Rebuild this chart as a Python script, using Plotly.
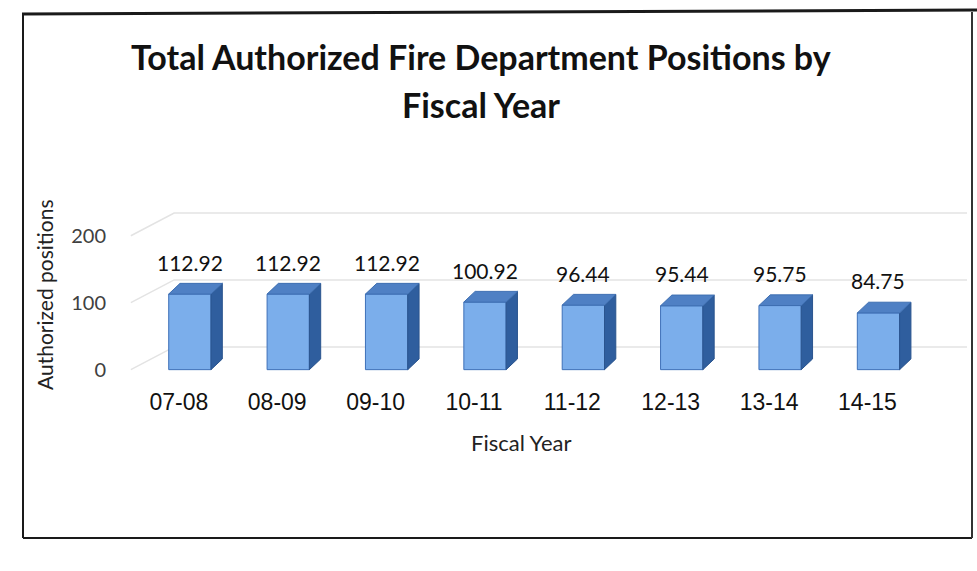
import plotly.graph_objects as go

# ---- data ----
years = ["07-08", "08-09", "09-10", "10-11", "11-12", "12-13", "13-14", "14-15"]
positions = [112.92, 112.92, 112.92, 100.92, 96.44, 95.44, 95.75, 84.75]
y_ticks = [0, 100, 200]

title_lines = ["Total Authorized Fire Department Positions by", "Fiscal Year"]
x_title = "Fiscal Year"
y_title = "Authorized positions"

# ---- geometry / style ----
WIDTH, HEIGHT = 977, 571
L, R, T, B = 121, 10, 209, 198
XR = [-0.7, 7.9]
YR = [-5, 240]
BW = 0.43          # front face width (category units)
DX, DY = 0.115, 16  # 3D depth offset (x units, y units)
GX0, GX1, GY = -0.6, -0.16, 34  # back wall grid offsets
FONT = "Lato"

W = WIDTH - L - R
H = HEIGHT - T - B


def pxx(px):
    return (px - L) / W


def pxy(py):
    return (HEIGHT - B - py) / H


xs = list(range(len(years)))

fig = go.Figure()

# front faces
fig.add_trace(go.Bar(
    x=xs, y=positions, width=BW,
    marker=dict(color="#7BAEEB", line=dict(color="#3E70B8", width=1)),
    hoverinfo="skip", showlegend=False,
))

# side and top faces (computed from data)
side_x, side_y, top_x, top_y = [], [], [], []
for x, v in zip(xs, positions):
    xr = x + BW / 2
    xl = x - BW / 2
    side_x += [xr, xr + DX, xr + DX, xr, xr, None]
    side_y += [0, DY, v + DY, v, 0, None]
    top_x += [xl, xr, xr + DX, xl + DX, xl, None]
    top_y += [v, v, v + DY, v + DY, v, None]

fig.add_trace(go.Scatter(x=side_x, y=side_y, fill="toself", mode="lines",
                         fillcolor="#2F5E9E", line=dict(color="#2A548E", width=1),
                         hoverinfo="skip", showlegend=False))
fig.add_trace(go.Scatter(x=top_x, y=top_y, fill="toself", mode="lines",
                         fillcolor="#4F80C4", line=dict(color="#3E6FB2", width=1),
                         hoverinfo="skip", showlegend=False))

shapes = []
# back-wall gridlines with perspective slant
for t in y_ticks:
    shapes.append(dict(type="path", xref="x", yref="y", layer="below",
                       path=f"M {GX0} {t} L {GX1} {t + GY} L {XR[1]} {t + GY}",
                       line=dict(color="#E3E3E3", width=1.5)))

# outer frame (scanned border)
shapes.append(dict(type="line", xref="paper", yref="paper",
                   x0=pxx(22), y0=pxy(14), x1=pxx(977), y1=pxy(10),
                   line=dict(color="#1A1A1A", width=3)))
shapes.append(dict(type="line", xref="paper", yref="paper",
                   x0=pxx(23), y0=pxy(14), x1=pxx(23), y1=pxy(538),
                   line=dict(color="#1A1A1A", width=2)))
shapes.append(dict(type="line", xref="paper", yref="paper",
                   x0=pxx(23), y0=pxy(538), x1=pxx(972), y1=pxy(538),
                   line=dict(color="#1A1A1A", width=2)))
shapes.append(dict(type="line", xref="paper", yref="paper",
                   x0=pxx(972), y0=pxy(12), x1=pxx(972), y1=pxy(538),
                   line=dict(color="#333333", width=2)))

annotations = []
for x, v in zip(xs, positions):
    annotations.append(dict(x=x, y=v, xref="x", yref="y", text=f"{v:.2f}",
                            showarrow=False, yanchor="middle", yshift=32,
                            font=dict(family=FONT, size=21, color="#111111")))

for line, cy in zip(title_lines, [56, 104]):
    annotations.append(dict(x=pxx(481), y=pxy(cy), xref="paper", yref="paper",
                            text=f"<b>{line}</b>", showarrow=False,
                            xanchor="center", yanchor="middle",
                            font=dict(family=FONT, size=34, color="#111111")))
annotations.append(dict(x=pxx(521), y=pxy(442), xref="paper", yref="paper",
                        text=x_title, showarrow=False,
                        xanchor="center", yanchor="middle",
                        font=dict(family=FONT, size=22, color="#222222")))
annotations.append(dict(x=pxx(44), y=pxy(295), xref="paper", yref="paper",
                        text=y_title, showarrow=False, textangle=-90,
                        xanchor="center", yanchor="middle",
                        font=dict(family=FONT, size=21, color="#222222")))

fig.update_layout(
    width=WIDTH, height=HEIGHT,
    margin=dict(l=L, r=R, t=T, b=B),
    paper_bgcolor="white", plot_bgcolor="white",
    shapes=shapes, annotations=annotations,
    showlegend=False,
    xaxis=dict(range=XR, tickvals=xs, ticktext=years, showgrid=False,
               zeroline=False, showline=False, ticks="",
               ticklabelshift=-11, ticklabelstandoff=13,
               tickfont=dict(family="Liberation Sans", size=23, color="#111111")),
    yaxis=dict(range=YR, tickvals=y_ticks, showgrid=False, zeroline=False,
               showline=False, ticks="", ticklabelstandoff=14,
               tickfont=dict(family=FONT, size=20, color="#404040")),
)

fig.write_html("out.html")
